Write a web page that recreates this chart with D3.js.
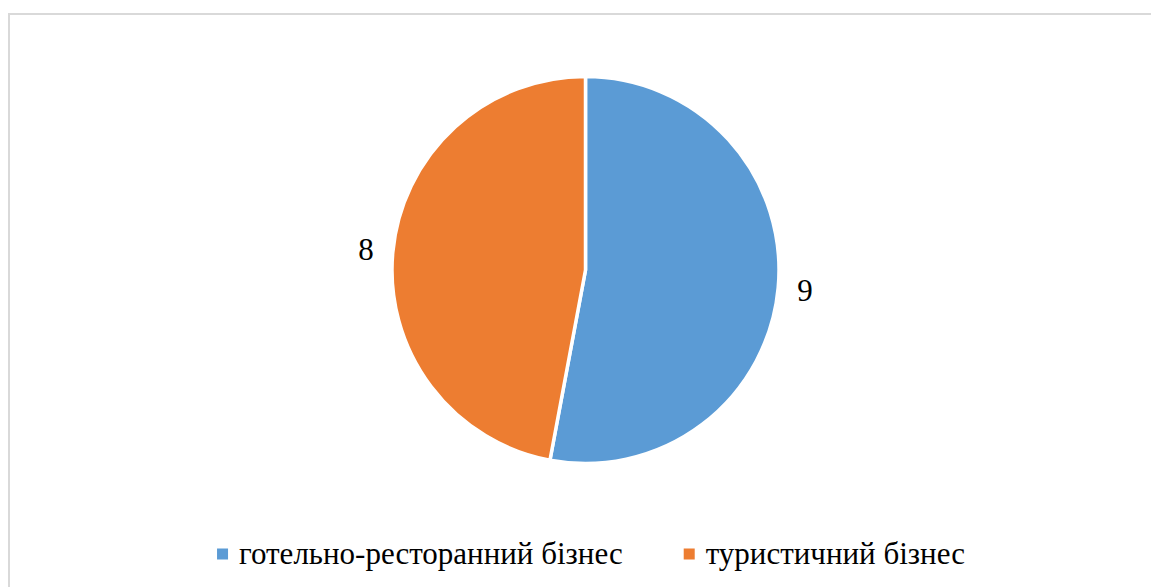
<!DOCTYPE html>
<html>
<head>
<meta charset="utf-8">
<script src="https://cdn.jsdelivr.net/npm/d3@7"></script>
<style>
  body { margin: 0; background: #fff; }
</style>
</head>
<body>
<svg id="chart" width="1151" height="587"></svg>
<script>
'use strict';
// data
const categories = ['готельно-ресторанний бізнес', 'туристичний бізнес'];
const values = [9, 8];
const colors = ['#5B9BD5', '#ED7D31'];

const FONT = "'Liberation Serif', 'Times New Roman', 'DejaVu Serif', serif";

const svg = d3.select('#chart');
const width = 1151, height = 587;

// chart frame (runs past right/bottom edge like the original)
svg.append('rect')
  .attr('x', 9)
  .attr('y', 14)
  .attr('width', width + 10)
  .attr('height', height + 10)
  .attr('fill', 'none')
  .attr('stroke', '#d9d9d9')
  .attr('stroke-width', 2);

const cx = 585.5, cy = 270, radius = 193.5;

const pie = d3.pie().sort(null).value(d => d);
const arcs = pie(values);

const arc = d3.arc().innerRadius(0).outerRadius(radius);
const labelArc = d3.arc().innerRadius(radius + 27).outerRadius(radius + 27);

const g = svg.append('g').attr('transform', `translate(${cx},${cy})`);

g.selectAll('path')
  .data(arcs)
  .enter()
  .append('path')
  .attr('d', arc)
  .attr('fill', (d, i) => colors[i])
  .attr('stroke', '#fff')
  .attr('stroke-width', 3.5)
  .attr('stroke-linejoin', 'round');

g.selectAll('text.lbl')
  .data(arcs)
  .enter()
  .append('text')
  .attr('class', 'lbl')
  .attr('x', d => labelArc.centroid(d)[0])
  .attr('y', d => labelArc.centroid(d)[1])
  .attr('text-anchor', 'middle')
  .attr('dominant-baseline', 'central')
  .attr('font-family', FONT)
  .attr('font-size', 31)
  .attr('fill', '#000')
  .text(d => d.data);

// legend, centered under the pie
const legend = svg.append('g');
const legendY = 554;
const sq = 11, sqGap = 11, itemGap = 61;
const items = legend.selectAll('g.item')
  .data(categories)
  .enter()
  .append('g')
  .attr('class', 'item');

items.append('rect')
  .attr('width', sq)
  .attr('height', sq)
  .attr('y', legendY - sq / 2)
  .attr('fill', (d, i) => colors[i]);

items.append('text')
  .attr('x', sq + sqGap)
  .attr('y', legendY + 10)
  .attr('font-family', FONT)
  .attr('font-size', 31)
  .attr('fill', '#000')
  .text(d => d);

let widths = [];
items.each(function() {
  widths.push(sq + sqGap + d3.select(this).select('text').node().getComputedTextLength());
});
const total = d3.sum(widths) + itemGap * (widths.length - 1);
let xPos = 591 - total / 2;
items.each(function(d, i) {
  d3.select(this).attr('transform', `translate(${xPos},0)`);
  xPos += widths[i] + itemGap;
});
</script>
</body>
</html>
